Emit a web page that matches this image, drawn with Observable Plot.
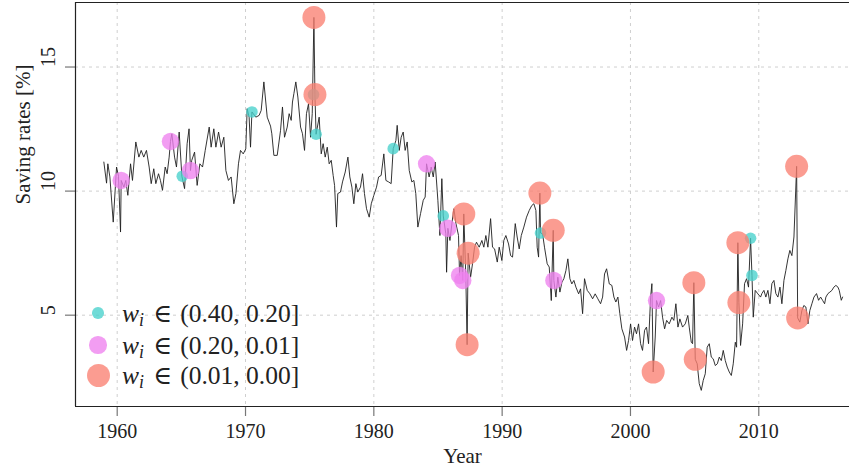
<!DOCTYPE html>
<html>
<head>
<meta charset="utf-8">
<script src="https://cdn.jsdelivr.net/npm/d3@7"></script>
<script src="https://cdn.jsdelivr.net/npm/@observablehq/plot@0.6"></script>
<style>
  html, body { margin: 0; padding: 0; background: #fff; }
  #wrap { position: relative; width: 849px; height: 471px; font-family: "Liberation Serif", "DejaVu Serif", serif; color: #222; }
  .lg-row { position: absolute; left: 86px; height: 30px; display: flex; align-items: center; font-size: 25.5px; white-space: nowrap; }
  .lg-sym { width: 24px; height: 30px; display: flex; align-items: center; justify-content: center; }
  .lg-sym span { display: block; border-radius: 50%; }
  .lg-txt { margin-left: 12px; }
  .lg-txt sub { font-size: 0.7em; font-style: italic; vertical-align: -0.22em; line-height: 0; }
  .lg-in { margin: 0 0.32em 0 0.36em; }
</style>
</head>
<body>
<div id="wrap"></div>
<script>
// ---- data ----
const seriesYears = [
  1958.96,1959.17,1959.27,1959.43,1959.69,1959.95,1960.10,1960.26,1960.31,1960.52,1960.67,1960.83,
  1961.04,1961.19,1961.45,1961.69,1961.87,1962.07,1962.28,1962.49,1962.65,1962.85,1963.01,1963.22,
  1963.37,1963.53,1963.74,1963.89,1964.05,1964.15,1964.26,1964.47,1964.62,1964.83,1965.04,1965.25,
  1965.45,1965.60,1965.71,1965.81,1966.03,1966.23,1966.44,1966.65,1966.86,1967.17,1967.32,1967.53,
  1967.69,1967.90,1968.10,1968.31,1968.47,1968.67,1968.88,1969.09,1969.25,1969.45,1969.61,1969.82,
  1970.02,1970.13,1970.28,1970.39,1970.50,1970.80,1971.06,1971.22,1971.43,1971.69,1971.95,1972.05,
  1972.21,1972.47,1972.73,1972.88,1973.04,1973.25,1973.40,1973.56,1973.66,1973.77,1973.92,1974.08,
  1974.29,1974.44,1974.60,1974.75,1974.91,1975.07,1975.20,1975.33,1975.41,1975.50,1975.74,1975.90,
  1976.05,1976.21,1976.37,1976.52,1976.68,1976.83,1976.94,1977.09,1977.19,1977.40,1977.56,1977.77,
  1977.98,1978.13,1978.29,1978.44,1978.60,1978.75,1978.96,1979.12,1979.27,1979.43,1979.64,1979.80,
  1980.00,1980.21,1980.37,1980.57,1980.78,1980.94,1981.15,1981.35,1981.51,1981.72,1981.82,1981.98,
  1982.13,1982.29,1982.44,1982.60,1982.76,1982.96,1983.12,1983.27,1983.43,1983.64,1983.85,1984.00,
  1984.11,1984.31,1984.47,1984.63,1984.78,1984.99,1985.15,1985.30,1985.41,1985.61,1985.67,1985.77,
  1985.93,1986.11,1986.24,1986.40,1986.60,1986.68,1986.80,1986.93,1987.01,1987.17,1987.27,1987.35,
  1987.54,1987.69,1987.85,1988.00,1988.21,1988.42,1988.57,1988.73,1988.89,1989.10,1989.25,1989.41,
  1989.62,1989.77,1989.98,1990.13,1990.29,1990.50,1990.66,1990.81,1991.02,1991.17,1991.33,1991.49,
  1991.69,1991.90,1992.11,1992.31,1992.47,1992.63,1992.73,1992.84,1992.94,1992.99,1993.15,1993.30,
  1993.51,1993.67,1993.83,1993.98,1994.03,1994.19,1994.34,1994.50,1994.66,1994.81,1994.97,1995.12,
  1995.28,1995.43,1995.59,1995.75,1995.96,1996.11,1996.27,1996.42,1996.63,1996.84,1997.05,1997.25,
  1997.46,1997.67,1997.83,1997.98,1998.14,1998.35,1998.55,1998.71,1998.86,1999.02,1999.17,1999.33,
  1999.54,1999.70,1999.85,2000.01,2000.16,2000.32,2000.47,2000.63,2000.79,2000.94,2001.10,2001.25,
  2001.41,2001.57,2001.67,2001.77,2001.93,2002.03,2002.19,2002.35,2002.50,2002.66,2002.82,2003.02,
  2003.23,2003.38,2003.54,2003.70,2003.85,2004.06,2004.27,2004.47,2004.58,2004.74,2004.84,2004.94,
  2005.05,2005.20,2005.36,2005.52,2005.67,2005.83,2005.98,2006.14,2006.30,2006.45,2006.61,2006.77,
  2006.92,2007.08,2007.23,2007.39,2007.54,2007.70,2007.86,2008.01,2008.17,2008.27,2008.37,2008.45,
  2008.58,2008.74,2008.89,2009.05,2009.20,2009.36,2009.47,2009.57,2009.72,2009.93,2010.14,2010.24,
  2010.40,2010.55,2010.71,2010.87,2011.02,2011.18,2011.33,2011.49,2011.65,2011.80,2011.96,2012.11,
  2012.27,2012.42,2012.58,2012.74,2012.95,2013.03,2013.20,2013.36,2013.51,2013.67,2013.83,2013.98,
  2014.14,2014.30,2014.50,2014.66,2014.82,2014.97,2015.13,2015.23,2015.39,2015.54,2015.70,2015.85,
  2016.01,2016.17,2016.27,2016.43,2016.53
];
const seriesRates = [
  11.17,10.32,11.10,10.57,8.75,10.97,10.60,8.35,10.43,10.16,10.43,9.83,
  11.10,10.43,11.98,11.37,11.64,11.37,11.64,10.97,10.30,10.90,10.30,10.70,
  10.43,10.03,10.97,10.70,11.37,12.00,12.31,11.37,10.97,12.38,10.60,10.10,
  11.91,12.51,10.83,11.24,11.57,10.23,11.10,10.97,11.64,12.58,11.77,12.51,
  11.77,12.38,11.77,12.17,10.83,10.43,10.57,9.49,9.90,11.10,11.64,11.50,
  11.70,13.32,12.98,11.77,13.19,12.98,13.05,13.25,14.40,12.98,12.62,12.31,
  11.44,11.44,12.45,13.39,12.17,12.58,13.12,12.85,13.59,13.93,14.40,13.79,
  12.58,12.31,11.64,13.12,13.52,12.17,13.12,17.00,13.89,12.29,12.98,11.50,
  11.91,11.37,11.77,11.10,11.24,10.63,10.23,8.55,9.90,9.96,10.37,10.77,
  11.37,10.57,10.16,9.49,10.30,9.96,10.16,10.70,9.90,9.29,8.95,9.49,
  9.83,10.16,10.57,10.63,11.50,10.43,10.37,10.30,11.71,12.04,12.65,11.64,
  12.17,12.38,11.64,11.98,10.83,10.37,10.43,9.90,8.55,9.09,9.63,9.76,
  11.10,10.57,10.97,10.57,11.17,9.63,8.21,10.50,9.00,8.28,6.73,8.50,
  8.01,8.80,9.29,8.69,8.21,6.60,7.40,6.40,9.08,6.53,3.81,7.50,
  6.53,7.07,7.74,7.94,7.74,8.01,7.74,8.21,7.74,8.89,7.74,7.67,
  7.14,7.74,7.20,8.01,8.21,7.87,7.40,7.34,8.69,8.15,7.67,8.21,
  8.55,8.95,9.22,9.42,9.49,9.22,7.74,7.34,9.92,8.31,8.28,7.74,
  7.07,6.94,5.59,8.42,6.40,5.73,6.53,5.93,6.33,6.47,6.80,7.27,
  6.47,6.26,6.40,6.13,5.86,6.06,5.06,6.47,6.00,5.86,5.66,5.86,
  5.66,5.46,5.73,6.66,6.87,6.26,6.20,5.73,5.53,5.73,5.06,4.45,
  4.12,3.58,3.98,4.65,3.98,4.52,4.25,4.65,3.85,3.58,4.39,4.52,
  3.85,5.73,6.27,2.71,4.12,5.59,5.33,5.59,4.92,4.45,4.79,4.65,
  4.92,4.79,5.46,4.52,4.85,4.52,4.65,4.99,4.52,3.91,3.85,6.31,
  3.22,3.04,2.24,1.97,2.37,2.64,3.71,3.85,3.31,3.24,2.97,3.04,
  3.31,3.17,3.58,3.17,2.91,2.71,2.57,3.04,3.91,3.71,7.92,5.51,
  3.78,4.65,6.27,6.47,6.13,8.10,6.60,4.92,6.00,5.86,5.73,5.87,
  6.00,5.73,6.00,5.46,6.27,6.40,5.87,5.73,6.13,5.46,6.40,6.80,
  7.27,7.61,7.40,8.15,11.00,4.89,4.72,5.19,5.39,5.33,4.65,5.19,
  5.46,5.73,5.87,5.60,5.73,5.60,5.46,5.73,5.87,5.93,6.00,6.13,
  6.20,6.13,6.00,5.60,5.73
];

const groupLabels = ["(0.40, 0.20]", "(0.20, 0.01]", "(0.01, 0.00]"];
const groupColors = ["#48D1CC", "#EE82EE", "#FA8072"];
const groupRadii = [5.8, 8.7, 11.5];

const cyanYears = [1965.07, 1970.50, 1975.30, 1975.50, 1981.51, 1985.41, 1992.99, 2009.36, 2009.47];
const cyanRates = [10.60, 13.19, 13.89, 12.29, 11.71, 9.00, 8.31, 8.10, 6.60];
const pinkYears = [1960.31, 1964.15, 1965.71, 1984.11, 1985.77, 1986.68, 1986.93, 1994.03, 2002.03];
const pinkRates = [10.43, 12.00, 10.83, 11.10, 8.50, 6.60, 6.40, 6.40, 5.59];
const redYears  = [1975.33, 1975.41, 1987.01, 1987.27, 1987.35, 1992.94, 1993.98, 2001.77, 2004.94, 2005.05, 2008.37, 2008.45, 2012.95, 2013.03];
const redRates  = [17.00, 13.89, 9.08, 3.81, 7.50, 9.92, 8.42, 2.71, 6.31, 3.22, 7.92, 5.51, 11.00, 4.89];

const xTicks = [1960, 1970, 1980, 1990, 2000, 2010];
const yTicks = [5, 10, 15];
const xTitle = "Year";
const yTitle = "Saving rates [%]";

// ---- build tables ----
const series = seriesYears.map((t, i) => ({year: t, rate: seriesRates[i]}));
const pts = (ys, rs) => ys.map((t, i) => ({year: t, rate: rs[i]}));
const groups = [pts(cyanYears, cyanRates), pts(pinkYears, pinkRates), pts(redYears, redRates)];

const xDomain = [1956.75, 2017.07];
const yDomain = [1.32, 17.6];
const gridStyle = {stroke: "#cfcfcf", strokeOpacity: 1, strokeWidth: 1, strokeDasharray: "3,4"};
const axisLine = {stroke: "#222", strokeWidth: 1.2};
const fontFam = "'Liberation Serif', 'DejaVu Serif', serif";

const chart = Plot.plot({
  width: 849,
  height: 471,
  marginLeft: 75,
  marginRight: 0,
  marginTop: 2,
  marginBottom: 65,
  style: {fontFamily: fontFam, fontSize: "20px", background: "#fff", color: "#222"},
  x: {domain: xDomain},
  y: {domain: yDomain},
  marks: [
    Plot.gridX(xTicks, gridStyle),
    Plot.gridY(yTicks, gridStyle),
    Plot.axisX(xTicks, {tickSize: 10, tickPadding: 7, tickFormat: d => String(d), label: null,
      stroke: "#777", strokeWidth: 1.2, fill: "#222", fontSize: 20}),
    Plot.axisY(yTicks, {tickSize: 10, label: null, stroke: "#777", strokeWidth: 1.2, fill: "none"}),
    Plot.text(yTicks, {y: d => d, frameAnchor: "left", dx: -27, rotate: -90, text: d => String(d),
      fontSize: 20, fill: "#222"}),
    Plot.ruleY([yDomain[1]], axisLine),
    Plot.ruleY([yDomain[0]], axisLine),
    Plot.ruleX([xDomain[0]], axisLine),
    Plot.line(series, {x: "year", y: "rate", stroke: "#1e1e1e", strokeWidth: 0.9}),
    ...groups.map((g, i) => Plot.dot(g, {x: "year", y: "rate", r: groupRadii[i], fill: groupColors[i], fillOpacity: 0.78})),
    Plot.text([xTitle], {frameAnchor: "bottom", dy: 56, text: d => d, fontSize: 21, fill: "#222"}),
    Plot.text([yTitle], {frameAnchor: "left", dx: -52, rotate: -90, text: d => d, fontSize: 21, fill: "#222"})
  ]
});

const wrap = document.getElementById("wrap");
wrap.appendChild(chart);

// legend (inside the plot area, bottom-left)
const rowCenters = [313, 345, 375];
groupLabels.forEach((lab, i) => {
  const row = document.createElement("div");
  row.className = "lg-row";
  row.style.top = (rowCenters[i] - 15) + "px";
  const sym = document.createElement("div");
  sym.className = "lg-sym";
  const c = document.createElement("span");
  const d = groupRadii[i] * 2;
  c.style.width = d + "px";
  c.style.height = d + "px";
  c.style.background = groupColors[i];
  c.style.opacity = 0.78;
  sym.appendChild(c);
  const txt = document.createElement("div");
  txt.className = "lg-txt";
  txt.innerHTML = '<i>w</i><sub>i</sub><span class="lg-in">\u2208</span>' + lab;
  row.appendChild(sym);
  row.appendChild(txt);
  wrap.appendChild(row);
});
</script>
</body>
</html>
